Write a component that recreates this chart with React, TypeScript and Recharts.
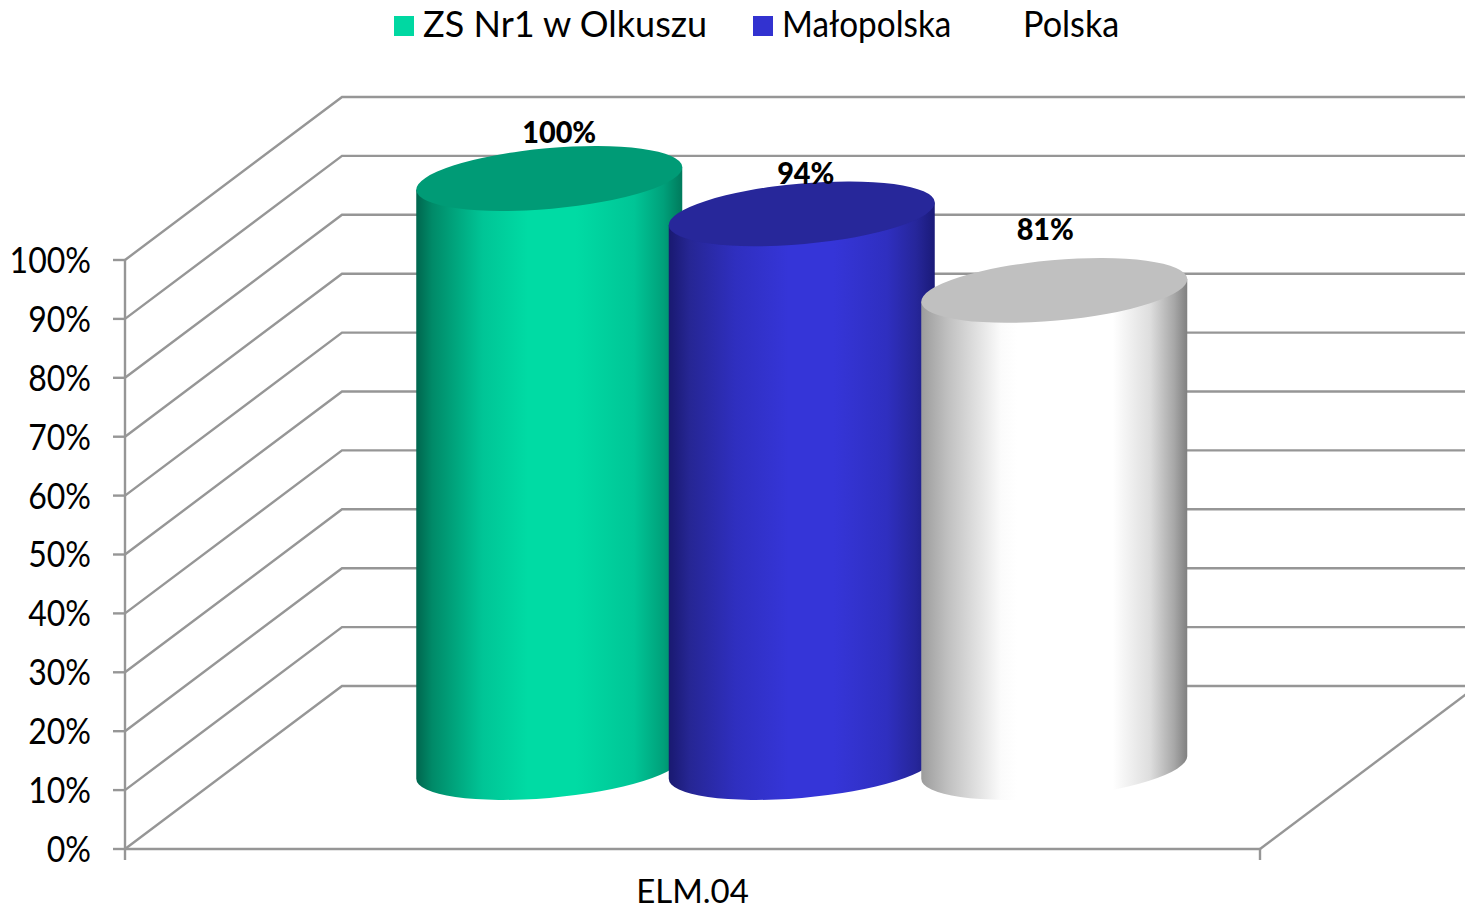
import React from "react";
import { BarChart, Bar, XAxis, YAxis, CartesianGrid, Legend, LabelList } from "recharts";

const categories = ["ELM.04"];
const seriesNames = ["ZS Nr1 w Olkuszu", "Małopolska", "Polska"];
const schoolValues = [1.0];
const regionValues = [0.94];
const countryValues = [0.81];
const yTicks = [0, 0.1, 0.2, 0.3, 0.4, 0.5, 0.6, 0.7, 0.8, 0.9, 1];

const data = categories.map((cat, i) => ({
  cat,
  school: schoolValues[i],
  region: regionValues[i],
  country: countryValues[i],
}));

const FONT = "Lato, 'Open Sans', sans-serif";
const W = 1465, H = 910;
const LEFT = 125, RIGHT = 1260, BOTTOM = 849, TOP = 260;
const DEPTH_X = 217, DEPTH_Y = 163;
const GRID = "#969696";

const styles = [
  {
    key: "school", id: "gSchool", legend: "#00d8a2", top: "#009b76",
    stops: [[0, "#00664e"], [0.06, "#008a68"], [0.25, "#00c596"], [0.42, "#00dba4"], [0.6, "#00dba4"], [0.82, "#00c596"], [0.93, "#00a07a"], [1, "#007a5c"]],
    label: [10, -46],
  },
  {
    key: "region", id: "gRegion", legend: "#3232d0", top: "#27279a",
    stops: [[0, "#191970"], [0.08, "#262694"], [0.25, "#2f2fbf"], [0.45, "#3535d8"], [0.62, "#3535d8"], [0.82, "#2f2fc0"], [0.93, "#26269a"], [1, "#1a1a78"]],
    label: [4, -41],
  },
  {
    key: "country", id: "gCountry", legend: "#ffffff", top: "#c0c0c0",
    stops: [[0, "#9c9c9c"], [0.1, "#c0c0c0"], [0.3, "#fbfbfb"], [0.36, "#ffffff"], [0.72, "#ffffff"], [0.86, "#dedede"], [0.95, "#a8a8a8"], [1, "#808080"]],
    label: [-9, -61],
  },
];

const RX = 133.5, RY = 30.3, TILT = 5.1, TIP = 11.3;
const BAR_SHIFT_X = DEPTH_X / 2 + 0.75;
const BAR_SHIFT_Y = DEPTH_Y / 2;

function Cylinder(props: any, st: any) {
  const { x, y, width, height } = props;
  const cx = x + width / 2 + BAR_SHIFT_X;
  const half = width / 2;
  const topY = y - BAR_SHIFT_Y;
  const botY = y + height - BAR_SHIFT_Y;
  const d = `M${cx - half},${topY + TIP} L${cx - half},${botY + TIP} A${RX},${RY} ${-TILT} 0 0 ${cx + half},${botY - TIP} L${cx + half},${topY - TIP} Z`;
  return (
    <g>
      <defs>
        <linearGradient id={st.id} x1="0" y1="0" x2="1" y2="0">
          {st.stops.map((s: any, i: number) => (
            <stop key={i} offset={s[0]} stopColor={s[1]} />
          ))}
        </linearGradient>
      </defs>
      <path d={d} fill={`url(#${st.id})`} />
      <ellipse cx={cx} cy={topY} rx={RX} ry={RY} fill={st.top} transform={`rotate(${-TILT} ${cx} ${topY})`} />
    </g>
  );
}

function barLabel(props: any, st: any) {
  const { x, y, width, value } = props;
  const lx = x + width / 2 + BAR_SHIFT_X + st.label[0];
  return (
    <text
      x={lx}
      y={y - BAR_SHIFT_Y + st.label[1]}
      dy={11}
      textAnchor="middle"
      fontFamily={FONT}
      fontWeight={900}
      fontSize={30}
      fill="#000"
      transform={`translate(${lx} 0) scale(0.96 1) translate(${-lx} 0)`}
    >
      {Math.round(value * 100)}%
    </text>
  );
}

function gridLine(props: any) {
  const { y1, key } = props;
  const y = Number(y1);
  const backY = y - DEPTH_Y;
  const isFloor = Math.abs(y - BOTTOM) < 1;
  return (
    <g key={key ?? y}>
      <path
        d={`M${LEFT},${y} L${LEFT + DEPTH_X},${backY} L${W},${backY}`}
        fill="none"
        stroke={GRID}
        strokeWidth={2.4}
      />
      {isFloor && (
        <path d={`M${RIGHT},${y} L${RIGHT + DEPTH_X},${backY}`} fill="none" stroke={GRID} strokeWidth={2.4} />
      )}
    </g>
  );
}

function yTick(props: any) {
  const { y, payload } = props;
  return (
    <text
      x={91}
      y={y}
      dy={13}
      textAnchor="end"
      fontFamily={FONT}
      fontSize={36}
      fill="#000"
      transform="translate(91 0) scale(0.89 1) translate(-91 0)"
    >
      {Math.round(payload.value * 100)}%
    </text>
  );
}

function xTick(props: any) {
  const { x, payload } = props;
  return (
    <g>
      <path d={`M${LEFT},${BOTTOM} V${BOTTOM + 11} M${RIGHT},${BOTTOM} V${BOTTOM + 11}`} stroke={GRID} strokeWidth={2.4} />
      <text
        x={x}
        y={903}
        textAnchor="middle"
        fontFamily={FONT}
        fontSize={33}
        fill="#000"
      >
        {payload.value}
      </text>
    </g>
  );
}

const legendX = [394, 753, 994];
const legendTextScale = [1, 0.925, 0.95];

function legendContent() {
  return (
    <div style={{ position: "relative", height: 0, width: W }}>
      {seriesNames.map((name, i) => (
        <React.Fragment key={name}>
          <div
            style={{
              position: "absolute",
              left: legendX[i],
              top: 16,
              width: 20,
              height: 20,
              background: styles[i].legend,
            }}
          />
          <div
            style={{
              position: "absolute",
              left: legendX[i] + 29,
              top: 1,
              fontFamily: FONT,
              fontSize: 36,
              lineHeight: "44px",
              color: "#000",
              whiteSpace: "nowrap",
              transform: `scaleX(${legendTextScale[i]})`,
              transformOrigin: "left center",
            }}
          >
            {name}
          </div>
        </React.Fragment>
      ))}
    </div>
  );
}

export default function App() {
  return (
    <div style={{ position: "absolute", left: 0, top: 0, width: W, height: H, background: "#fff", overflow: "hidden" }}>
      <BarChart
        width={W}
        height={H}
        data={data}
        margin={{ top: TOP, right: W - RIGHT, bottom: 0, left: 0 }}
        barGap={-13.5}
        barSize={266}
      >
        <CartesianGrid vertical={false} horizontal={gridLine as any} />
        <XAxis
          dataKey="cat"
          height={H - BOTTOM}
          axisLine={{ stroke: GRID, strokeWidth: 2.4 }}
          tickLine={false}
          tick={xTick as any}
          interval={0}
        />
        <YAxis
          width={LEFT}
          domain={[0, 1]}
          ticks={yTicks}
          interval={0}
          axisLine={{ stroke: GRID, strokeWidth: 2.4 }}
          tickSize={12}
          tickLine={{ stroke: GRID, strokeWidth: 2.4 }}
          tick={yTick as any}
        />
        <Legend
          verticalAlign="top"
          content={legendContent as any}
          wrapperStyle={{ position: "absolute", left: 0, top: 0, width: W, height: 0 }}
        />
        {styles.map((st, i) => (
          <Bar
            key={st.key}
            dataKey={st.key}
            name={seriesNames[i]}
            fill={st.legend}
            isAnimationActive={false}
            shape={(p: any) => Cylinder(p, st)}
          >
            <LabelList dataKey={st.key} content={(p: any) => barLabel(p, st)} />
          </Bar>
        ))}
      </BarChart>
    </div>
  );
}
